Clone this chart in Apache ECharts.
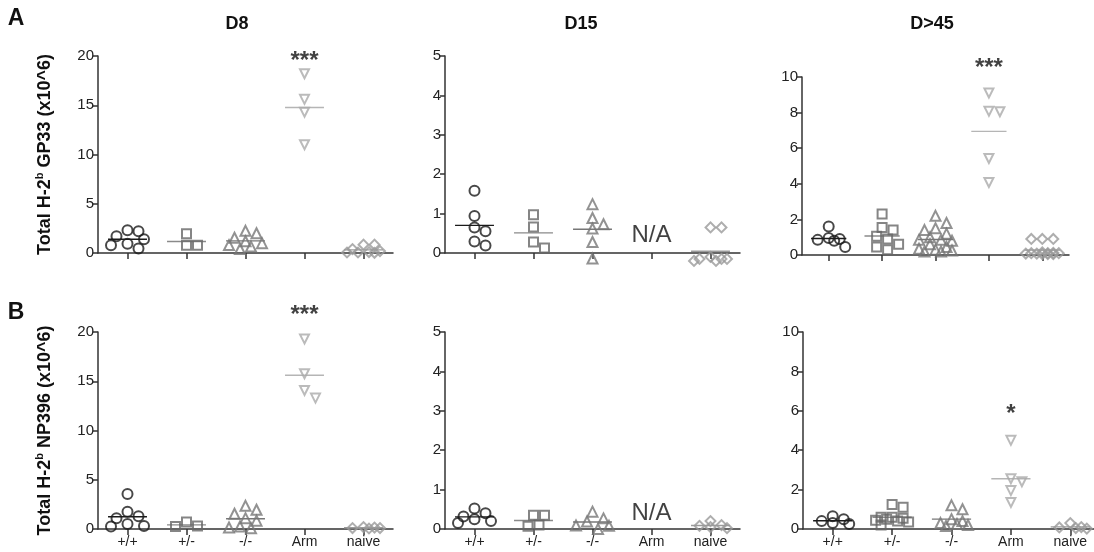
<!DOCTYPE html>
<html>
<head>
<meta charset="utf-8">
<script src="https://cdn.jsdelivr.net/npm/echarts@6/dist/echarts.min.js"></script>
<style>
  html, body {margin: 0; padding: 0; background: #fff;}
  #main {width: 1094px; height: 552px;}
</style>
</head>
<body>
<div id="main"></div>
<script>
// categories along the x axis of every panel
const cats = ['+/+', '+/-', '-/-', 'Arm', 'naive'];

// GP33 tetramer+ cells (x10^6), one list per group: +/+, +/-, -/-, Arm, naive
const gp33D8 = [
    [2.3, 2.2, 1.7, 1.4, 0.95, 0.78, 0.45],
    [1.95, 0.78, 0.78],
    [2.25, 2.0, 1.55, 1.2, 1.0, 0.8, 0.65, 0.4],
    [18.2, 15.6, 14.3, 11.0],
    [0.85, 0.85, 0.4, 0.2, 0.1, 0.05, 0.05, 0.02]
];
const gp33D15 = [
    [1.58, 0.94, 0.65, 0.55, 0.29, 0.19],
    [0.97, 0.66, 0.28, 0.13],
    [1.24, 0.89, 0.73, 0.62, 0.28, -0.14],
    null,
    [0.65, 0.65, -0.1, -0.15, -0.15, -0.2, -0.2, -0.15]
];
const gp33D45 = [
    [1.6, 0.95, 0.9, 0.85, 0.8, 0.45],
    [2.3, 1.55, 1.4, 1.05, 0.9, 0.6, 0.45, 0.3],
    [2.2, 1.8, 1.5, 1.4, 1.2, 1.0, 0.85, 0.85, 0.8, 0.6, 0.45, 0.35, 0.3, 0.25, 0.2, 0.2],
    [9.1, 8.05, 8.08, 5.42, 4.07],
    [0.9, 0.9, 0.9, 0.15, 0.12, 0.1, 0.1, 0.1, 0.08, 0.08, 0.05, 0.05, 0.05]
];
// NP396 tetramer+ cells (x10^6)
const np396D8 = [
    [3.55, 1.75, 1.3, 1.1, 0.5, 0.3, 0.25],
    [0.7, 0.3, 0.25],
    [2.35, 1.95, 1.55, 1.1, 0.85, 0.25, 0.15, 0.07],
    [19.3, 15.76, 14.07, 13.29],
    [0.15, 0.2, 0.1, 0.05, 0.1]
];
const np396D15 = [
    [0.52, 0.4, 0.32, 0.25, 0.2, 0.15],
    [0.35, 0.35, 0.1, 0.07],
    [0.44, 0.27, 0.19, 0.09, 0.08, 0.0],
    null,
    [0.2, 0.1, 0.05, 0.02, 0.08]
];
const np396D45 = [
    [0.65, 0.5, 0.4, 0.3, 0.25],
    [1.25, 1.1, 0.6, 0.6, 0.55, 0.5, 0.45, 0.4, 0.35, 0.2],
    [1.2, 1.0, 0.5, 0.4, 0.3, 0.25, 0.2, 0.15],
    [4.5, 2.4, 2.55, 1.95, 1.35],
    [0.3, 0.1, 0.08, 0.05, 0.02]
];

// y axis ranges
const yMax = [20, 5, 10, 20, 5, 10];
const yStep = [5, 1, 2, 5, 1, 2];
// significance marks over the Arm column, and where they sit
const starText = ['***', '', '***', '***', '', '*'];
const starLevel = [19.5, null, 10.5, 21.7, null, 5.8];
// level of the N/A note for the missing Arm group
const naLevel = [null, 0.44, null, null, 0.39, null];

const panelData = [gp33D8, gp33D15, gp33D45, np396D8, np396D15, np396D45];

const FONT = 'Liberation Sans, Arial, Helvetica, sans-serif';

const grids = [
    {left: 98, top: 56, width: 295, height: 197},
    {left: 445, top: 56, width: 295, height: 197},
    {left: 802, top: 77, width: 267, height: 178},
    {left: 98, top: 332, width: 295, height: 197},
    {left: 445, top: 332, width: 295, height: 197},
    {left: 803, top: 332, width: 297, height: 197}
];

const groupStyle = [
    {symbol: 'circle', size: 10, rotate: 0, color: '#1a1a1a', mean: '#1a1a1a'},
    {symbol: 'rect', size: 9, rotate: 0, color: '#666666', mean: '#8a8a8a'},
    {symbol: 'triangle', size: 10, rotate: 0, color: '#777777', mean: '#777777'},
    {symbol: 'triangle', size: 9, rotate: 180, color: '#aaaaaa', mean: '#b5b5b5'},
    {symbol: 'rect', size: 7, rotate: 45, color: '#9a9a9a', mean: '#9a9a9a'}
];

// spread points sideways so they don't sit on top of each other
function swarm(vals, pxX, pxY) {
    const step = 5.5 / pxX, dist = 10, maxPx = 18;
    const order = vals.map((v, i) => i).sort((a, b) => vals[b] - vals[a]);
    const placed = [];
    const out = new Array(vals.length).fill(0);
    const cands = [0];
    for (let m = 1; m * 5.5 <= maxPx; m++) cands.push(m, -m);
    order.forEach(i => {
        let best = 0, bestD = -1;
        for (const m of cands) {
            const dx = m * step;
            let d = Infinity;
            placed.forEach(p => {
                d = Math.min(d, Math.hypot((p[0] - dx) * pxX, (p[1] - vals[i]) * pxY));
            });
            if (d >= dist) { best = dx; bestD = d; break; }
            if (d > bestD) { bestD = d; best = dx; }
        }
        out[i] = best;
        placed.push([best, vals[i]]);
    });
    return out;
}

const xAxis = [], yAxis = [], series = [];

grids.forEach((g, p) => {
    const bottomRow = p >= 3;
    xAxis.push({
        type: 'value', gridIndex: p, min: 0.5, max: 5.5,
        axisLine: {show: true, lineStyle: {color: '#333', width: 1.5}},
        axisTick: {show: true, length: 6, customValues: [1, 2, 3, 4, 5], lineStyle: {color: '#333', width: 1.5}},
        axisLabel: {
            show: bottomRow, customValues: [1, 2, 3, 4, 5], margin: 6,
            formatter: v => cats[Math.round(v) - 1],
            fontSize: 14, color: '#222', fontFamily: FONT
        },
        splitLine: {show: false}
    });
    const y = {
        type: 'value', gridIndex: p, min: 0, max: yMax[p], interval: yStep[p],
        axisLine: {show: true, lineStyle: {color: '#333', width: 1.5}},
        axisTick: {show: true, length: 5, lineStyle: {color: '#333', width: 1.5}},
        axisLabel: {fontSize: 15, color: '#222', margin: 4, fontFamily: FONT},
        splitLine: {show: false}
    };
    if (p % 3 === 0) {
        const which = p === 0 ? ' GP33 (x10^6)' : ' NP396 (x10^6)';
        y.name = '{n|Total H-2}{s|b}{n|' + which + '}';
        y.nameLocation = 'middle';
        y.nameRotate = 90;
        y.nameGap = 42;
        y.nameTextStyle = {
            rich: {
                n: {fontSize: 18, fontWeight: 'bold', color: '#111', fontFamily: FONT, lineHeight: 22},
                s: {fontSize: 11, fontWeight: 'bold', color: '#111', fontFamily: FONT, verticalAlign: 'top', lineHeight: 22}
            }
        };
    }
    yAxis.push(y);

    const pxX = g.width / 5;
    const pxY = g.height / yMax[p];
    panelData[p].forEach((vals, k) => {
        if (!vals) return;
        const st = groupStyle[k];
        const offs = swarm(vals, pxX, pxY);
        series.push({
            type: 'scatter', xAxisIndex: p, yAxisIndex: p, silent: true, clip: false,
            symbol: st.symbol, symbolSize: st.size, symbolRotate: st.rotate,
            itemStyle: {color: 'rgba(0,0,0,0)', borderColor: st.color, borderWidth: 2},
            data: vals.map((v, i) => [k + 1 + offs[i], v]),
            z: 3
        });
        const mean = vals.reduce((a, b) => a + b, 0) / vals.length;
        series.push({
            type: 'line', xAxisIndex: p, yAxisIndex: p, silent: true, symbol: 'none',
            lineStyle: {color: st.mean, width: 1.4},
            data: [[k + 0.67, mean], [k + 1.33, mean]],
            z: 2
        });
    });

    const notes = [];
    if (starText[p]) notes.push({value: [4, starLevel[p]], name: starText[p], fs: 24, bold: true});
    if (naLevel[p] != null) notes.push({value: [4, naLevel[p]], name: 'N/A', fs: 24, bold: false});
    notes.forEach(n => {
        series.push({
            type: 'scatter', xAxisIndex: p, yAxisIndex: p, silent: true, clip: false,
            symbolSize: 1, itemStyle: {color: 'rgba(0,0,0,0)'},
            label: {
                show: true, position: 'inside', formatter: '{b}',
                fontSize: n.fs, color: '#111', fontFamily: FONT,
                fontWeight: n.bold ? 'bold' : 'normal',
                textBorderWidth: 0
            },
            data: [{value: n.value, name: n.name}]
        });
    });
});

const txt = (t, x, y, size) => ({
    type: 'text', x: x, y: y, silent: true,
    style: {text: t, font: 'bold ' + size + 'px ' + FONT, fill: '#111', align: 'center', verticalAlign: 'middle'}
});

const chart = echarts.init(document.getElementById('main'), null, {renderer: 'canvas'});
chart.setOption({
    backgroundColor: '#fff',
    animation: false,
    grid: grids.map(g => Object.assign({containLabel: false, outerBoundsMode: 'none'}, g)),
    xAxis: xAxis,
    yAxis: yAxis,
    series: series,
    graphic: [
        txt('A', 16, 19, 23),
        txt('B', 16, 313, 23),
        txt('D8', 237, 24, 18),
        txt('D15', 581, 24, 18),
        txt('D>45', 932, 24, 18)
    ]
});
</script>
</body>
</html>
